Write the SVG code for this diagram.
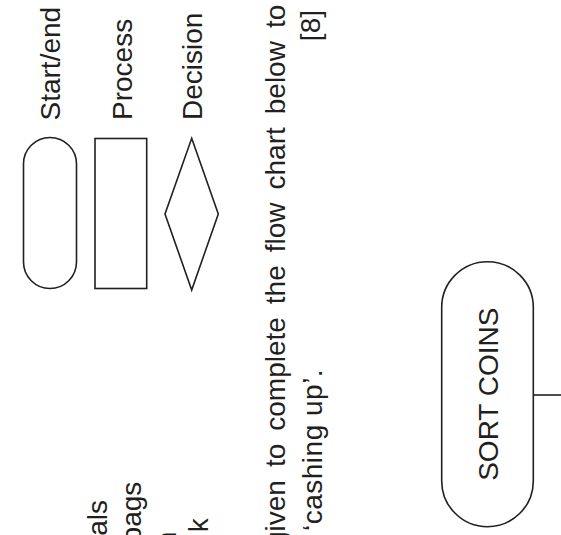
<svg xmlns="http://www.w3.org/2000/svg" width="561" height="535" viewBox="0 0 561 535">
  <style>
    .shape { fill: #ffffff; stroke: #231f20; stroke-width: 1.6; }
    .conn { fill: none; stroke: #231f20; stroke-width: 1.6; }
    .t { font-family: "Liberation Sans", Arial, sans-serif; font-size: 28px; fill: #231f20; }
  </style>
  <rect x="0" y="0" width="561" height="535" fill="#ffffff"/>

  <g id="partial-text">
    <text class="t" transform="translate(106.5,535.8) rotate(-90)">als</text>
    <text class="t" transform="translate(141,542.4) rotate(-90)">bags</text>
    <text class="t" transform="translate(176,547.3) rotate(-90)">n</text>
    <text class="t" transform="translate(208.3,532.3) rotate(-90)">k</text>
  </g>

  <g id="legend-startend">
    <rect class="shape" x="23.5" y="137.5" width="53" height="151" rx="26.5" ry="26.5"/>
    <text class="t" transform="translate(60,120.5) rotate(-90)">Start/end</text>
  </g>

  <g id="legend-process">
    <rect class="shape" x="95" y="138.5" width="51.7" height="150"/>
    <text class="t" transform="translate(131.6,120) rotate(-90)">Process</text>
  </g>

  <g id="legend-decision">
    <polygon class="shape" points="191.7,138.3 218.3,214 191.7,290 165,214"/>
    <text class="t" transform="translate(201.6,120) rotate(-90)">Decision</text>
  </g>

  <g id="instructions">
    <text class="t" word-spacing="5.2" transform="translate(285,547) rotate(-90)">given to complete the flow chart below to</text>
    <text class="t" letter-spacing="0.5" transform="translate(322,531) rotate(-90)">‘cashing up’.</text>
    <text class="t" text-anchor="end" transform="translate(320,10) rotate(-90)">[8]</text>
  </g>

  <g id="node-sort-coins">
    <rect class="shape" x="441.7" y="261.7" width="91.6" height="265" rx="45.8" ry="45.8"/>
    <text class="t" text-anchor="middle" transform="translate(498.3,394.2) rotate(-90)">SORT COINS</text>
  </g>

  <g id="connectors">
    <line class="conn" x1="533.3" y1="395" x2="561" y2="395"/>
  </g>
</svg>
